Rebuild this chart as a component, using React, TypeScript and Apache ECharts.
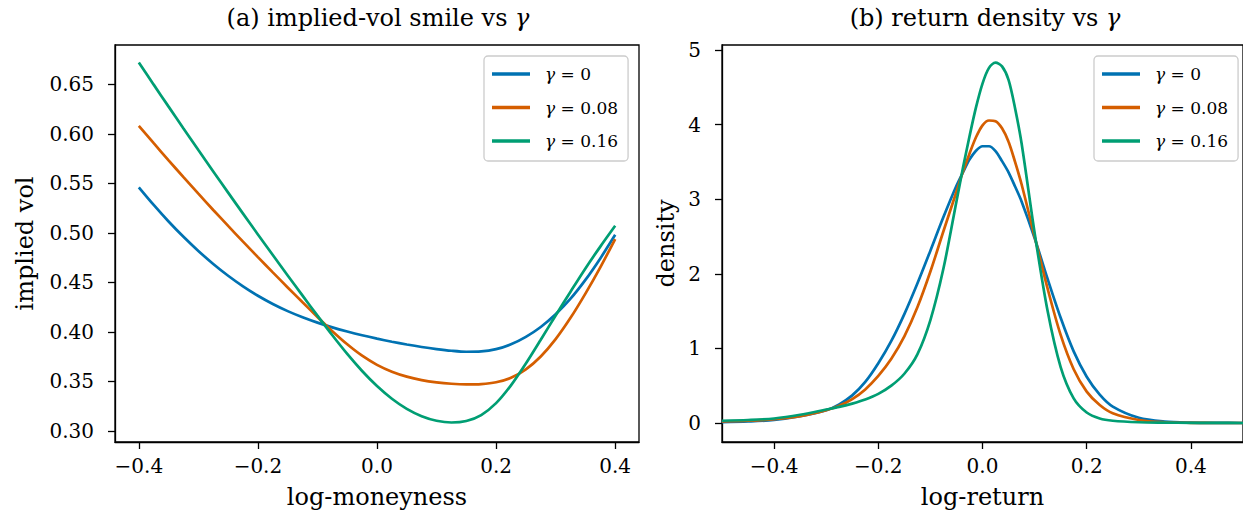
import React, { useEffect, useRef } from "react";
import * as echarts from "echarts";

// ---------- data ----------
const seriesNames = ["γ=0", "γ=0.08", "γ=0.16"];
const seriesColors = ["#0072B2", "#D55E00", "#009E73"];

// panel (a): implied-vol smile
const moneyness = [
  -0.4, -0.375, -0.35, -0.325, -0.3, -0.275, -0.25, -0.225, -0.2, -0.175, -0.15, -0.125, -0.1, -0.075, -0.05, -0.025,
  0, 0.025, 0.05, 0.075, 0.1, 0.125, 0.15, 0.175, 0.2, 0.225, 0.25, 0.275, 0.3, 0.325, 0.35, 0.375, 0.4,
];
const volGamma0 = [
  0.546, 0.5282, 0.5115, 0.496, 0.4817, 0.4686, 0.4567, 0.446, 0.4365, 0.4282, 0.421, 0.4148, 0.4094, 0.4046, 0.4004, 0.3966,
  0.3932, 0.3901, 0.3873, 0.3848, 0.3827, 0.381, 0.38, 0.3803, 0.3826, 0.3875, 0.395, 0.405, 0.4178, 0.4335, 0.4525, 0.4742, 0.498,
];
const volGamma008 = [
  0.608, 0.5905, 0.5732, 0.5562, 0.5395, 0.5231, 0.507, 0.4911, 0.4755, 0.4601, 0.4449, 0.4299, 0.4151, 0.4007, 0.3875, 0.376,
  0.3668, 0.3599, 0.3549, 0.3514, 0.3491, 0.3477, 0.3471, 0.3474, 0.3492, 0.3537, 0.3622, 0.3752, 0.3927, 0.4142, 0.4387, 0.4652, 0.4937,
];
const volGamma016 = [
  0.672, 0.6496, 0.6274, 0.6054, 0.5836, 0.562, 0.5406, 0.5194, 0.4984, 0.4776, 0.457, 0.4366, 0.4164, 0.3966, 0.3778, 0.3606,
  0.3454, 0.3326, 0.3224, 0.315, 0.3104, 0.3086, 0.3101, 0.3161, 0.3281, 0.3461, 0.3681, 0.3921, 0.4166, 0.4406, 0.4641, 0.4861, 0.5071,
];

// panel (b): return density
const logReturn = [
  -0.5, -0.45, -0.4, -0.35, -0.3, -0.275, -0.25, -0.225, -0.2, -0.175, -0.15, -0.125, -0.1, -0.075,
  -0.05, -0.0375, -0.025, -0.0125, 0, 0.0125, 0.025, 0.0375, 0.05, 0.0625, 0.075,
  0.1, 0.125, 0.15, 0.175, 0.2, 0.225, 0.25, 0.3, 0.35, 0.4, 0.45, 0.5,
];
const densGamma0 = [
  0.01, 0.02, 0.04, 0.09, 0.17, 0.25, 0.37, 0.55, 0.8, 1.1, 1.46, 1.87, 2.31, 2.76,
  3.18, 3.36, 3.53, 3.65, 3.71, 3.71, 3.645, 3.51, 3.36, 3.17, 2.97,
  2.48, 1.93, 1.41, 0.96, 0.62, 0.38, 0.22, 0.07, 0.02, 0.005, 0.001, 0,
];
const densGamma008 = [
  0.02, 0.03, 0.05, 0.09, 0.17, 0.23, 0.32, 0.45, 0.63, 0.86, 1.16, 1.55, 2.03, 2.57,
  3.1, 3.37, 3.61, 3.83, 3.99, 4.055, 4.045, 3.95, 3.77, 3.5, 3.2,
  2.5, 1.8, 1.18, 0.72, 0.42, 0.24, 0.13, 0.04, 0.01, 0.002, 0, 0,
];
const densGamma016 = [
  0.03, 0.04, 0.06, 0.11, 0.18, 0.215, 0.26, 0.315, 0.39, 0.5, 0.66, 0.92, 1.38, 2.07,
  2.97, 3.42, 3.84, 4.23, 4.55, 4.76, 4.83, 4.78, 4.6, 4.22, 3.75,
  2.55, 1.5, 0.75, 0.33, 0.14, 0.06, 0.03, 0.01, 0.005, 0.002, 0.001, 0,
];

// tick labels
const xTicksA = [-0.4, -0.2, 0, 0.2, 0.4];
const yTicksA = [0.3, 0.35, 0.4, 0.45, 0.5, 0.55, 0.6, 0.65];
const xTicksB = [-0.4, -0.2, 0, 0.2, 0.4];
const yTicksB = [0, 1, 2, 3, 4, 5];

const FONT = "DejaVu Serif";

function fmt(v: number, d: number) {
  const s = Math.abs(v).toFixed(d);
  return v < -1e-9 ? "\u2212" + s : s;
}

function pairs(xs: number[], ys: number[]) {
  return xs.map((x, i) => [x, ys[i]]);
}

function axis(opts: any) {
  const { min, max, ticks, dec, name, nameGap, gridIndex, isY } = opts;
  return {
    type: "value",
    gridIndex,
    min,
    max,
    name,
    nameLocation: "middle",
    nameGap,
    nameTextStyle: { fontFamily: FONT, fontSize: 24, color: "#000" },
    splitLine: { show: false },
    axisLine: { show: true, onZero: false, lineStyle: { color: "#000", width: 1.3 } },
    axisTick: { show: true, length: 7, lineStyle: { color: "#000", width: 1.3 }, customValues: ticks },
    axisLabel: {
      customValues: ticks,
      formatter: (v: number) => fmt(v, dec),
      fontFamily: FONT,
      fontSize: 20,
      color: "#000",
      margin: isY ? 21 : 14,
    },
  };
}

function legend(left: number) {
  return {
    data: seriesNames,
    orient: "vertical",
    left,
    top: 56,
    padding: [8, 10, 10, 8],
    itemGap: 13.5,
    itemWidth: 38,
    itemHeight: 3.5,
    icon: "rect",
    selectedMode: false,
    backgroundColor: "rgba(255,255,255,0.85)",
    borderColor: "#cccccc",
    borderWidth: 1.3,
    borderRadius: 4,
    formatter: (name: string) => `{sp|}{g|γ}{t| = ${name.split("=")[1]}}`,
    textStyle: {
      fontFamily: FONT,
      fontSize: 17,
      color: "#000",
      lineHeight: 20,
      rich: {
        sp: { width: 10 },
        g: { fontFamily: FONT, fontSize: 17, fontStyle: "italic", color: "#000" },
        t: { fontFamily: FONT, fontSize: 17, color: "#000" },
      },
    },
  };
}

export default function App() {
  const ref = useRef<HTMLDivElement>(null);
  useEffect(() => {
    const chart = echarts.init(ref.current!, null, { renderer: "svg" });
    const volSets = [volGamma0, volGamma008, volGamma016];
    const densSets = [densGamma0, densGamma008, densGamma016];
    const titleStyle = {
      fontFamily: FONT,
      fontSize: 24,
      fontWeight: "normal",
      color: "#000",
      rich: { g: { fontFamily: FONT, fontSize: 24, fontStyle: "italic", color: "#000" } },
    };
    chart.setOption({
      animation: false,
      backgroundColor: "#fff",
      title: [
        { text: "(a) implied-vol smile vs {g|γ}", left: 378, top: 6, textAlign: "center", padding: 0, textStyle: titleStyle },
        { text: "(b) return density vs {g|γ}", left: 985, top: 6, textAlign: "center", padding: 0, textStyle: titleStyle },
      ],
      legend: [legend(484), legend(1094)],
      grid: [
        { left: 115, top: 45, width: 524, height: 397, show: true, borderColor: "#000", borderWidth: 1.3, backgroundColor: "transparent" },
        { left: 722, top: 45, width: 525, height: 397, show: true, borderColor: "#000", borderWidth: 1.3, backgroundColor: "transparent" },
      ],
      xAxis: [
        axis({ gridIndex: 0, min: -0.44, max: 0.44, ticks: xTicksA, dec: 1, name: "log-moneyness", nameGap: 43 }),
        axis({ gridIndex: 1, min: -0.5, max: 0.5, ticks: xTicksB, dec: 1, name: "log-return", nameGap: 43 }),
      ],
      yAxis: [
        axis({ gridIndex: 0, min: 0.2889, max: 0.6896, ticks: yTicksA, dec: 2, name: "implied vol", nameGap: 78, isY: true }),
        axis({ gridIndex: 1, min: -0.255, max: 5.067, ticks: yTicksB, dec: 0, name: "density", nameGap: 44, isY: true }),
      ],
      series: [
        ...volSets.map((ys, i) => ({
          type: "line",
          name: seriesNames[i],
          xAxisIndex: 0,
          yAxisIndex: 0,
          data: pairs(moneyness, ys),
          smooth: 0.3,
          symbol: "none",
          clip: true,
          z: 2 + i,
          lineStyle: { width: 2.7, color: seriesColors[i] },
          itemStyle: { color: seriesColors[i] },
        })),
        ...densSets.map((ys, i) => ({
          type: "line",
          name: seriesNames[i],
          xAxisIndex: 1,
          yAxisIndex: 1,
          data: pairs(logReturn, ys),
          smooth: 0.3,
          symbol: "none",
          clip: true,
          z: 2 + i,
          lineStyle: { width: 2.7, color: seriesColors[i] },
          itemStyle: { color: seriesColors[i] },
        })),
      ],
    });
    return () => chart.dispose();
  }, []);
  return (
    <div
      ref={ref}
      style={{ position: "absolute", left: 0, top: 0, width: 1243, height: 516, background: "#fff" }}
    />
  );
}
